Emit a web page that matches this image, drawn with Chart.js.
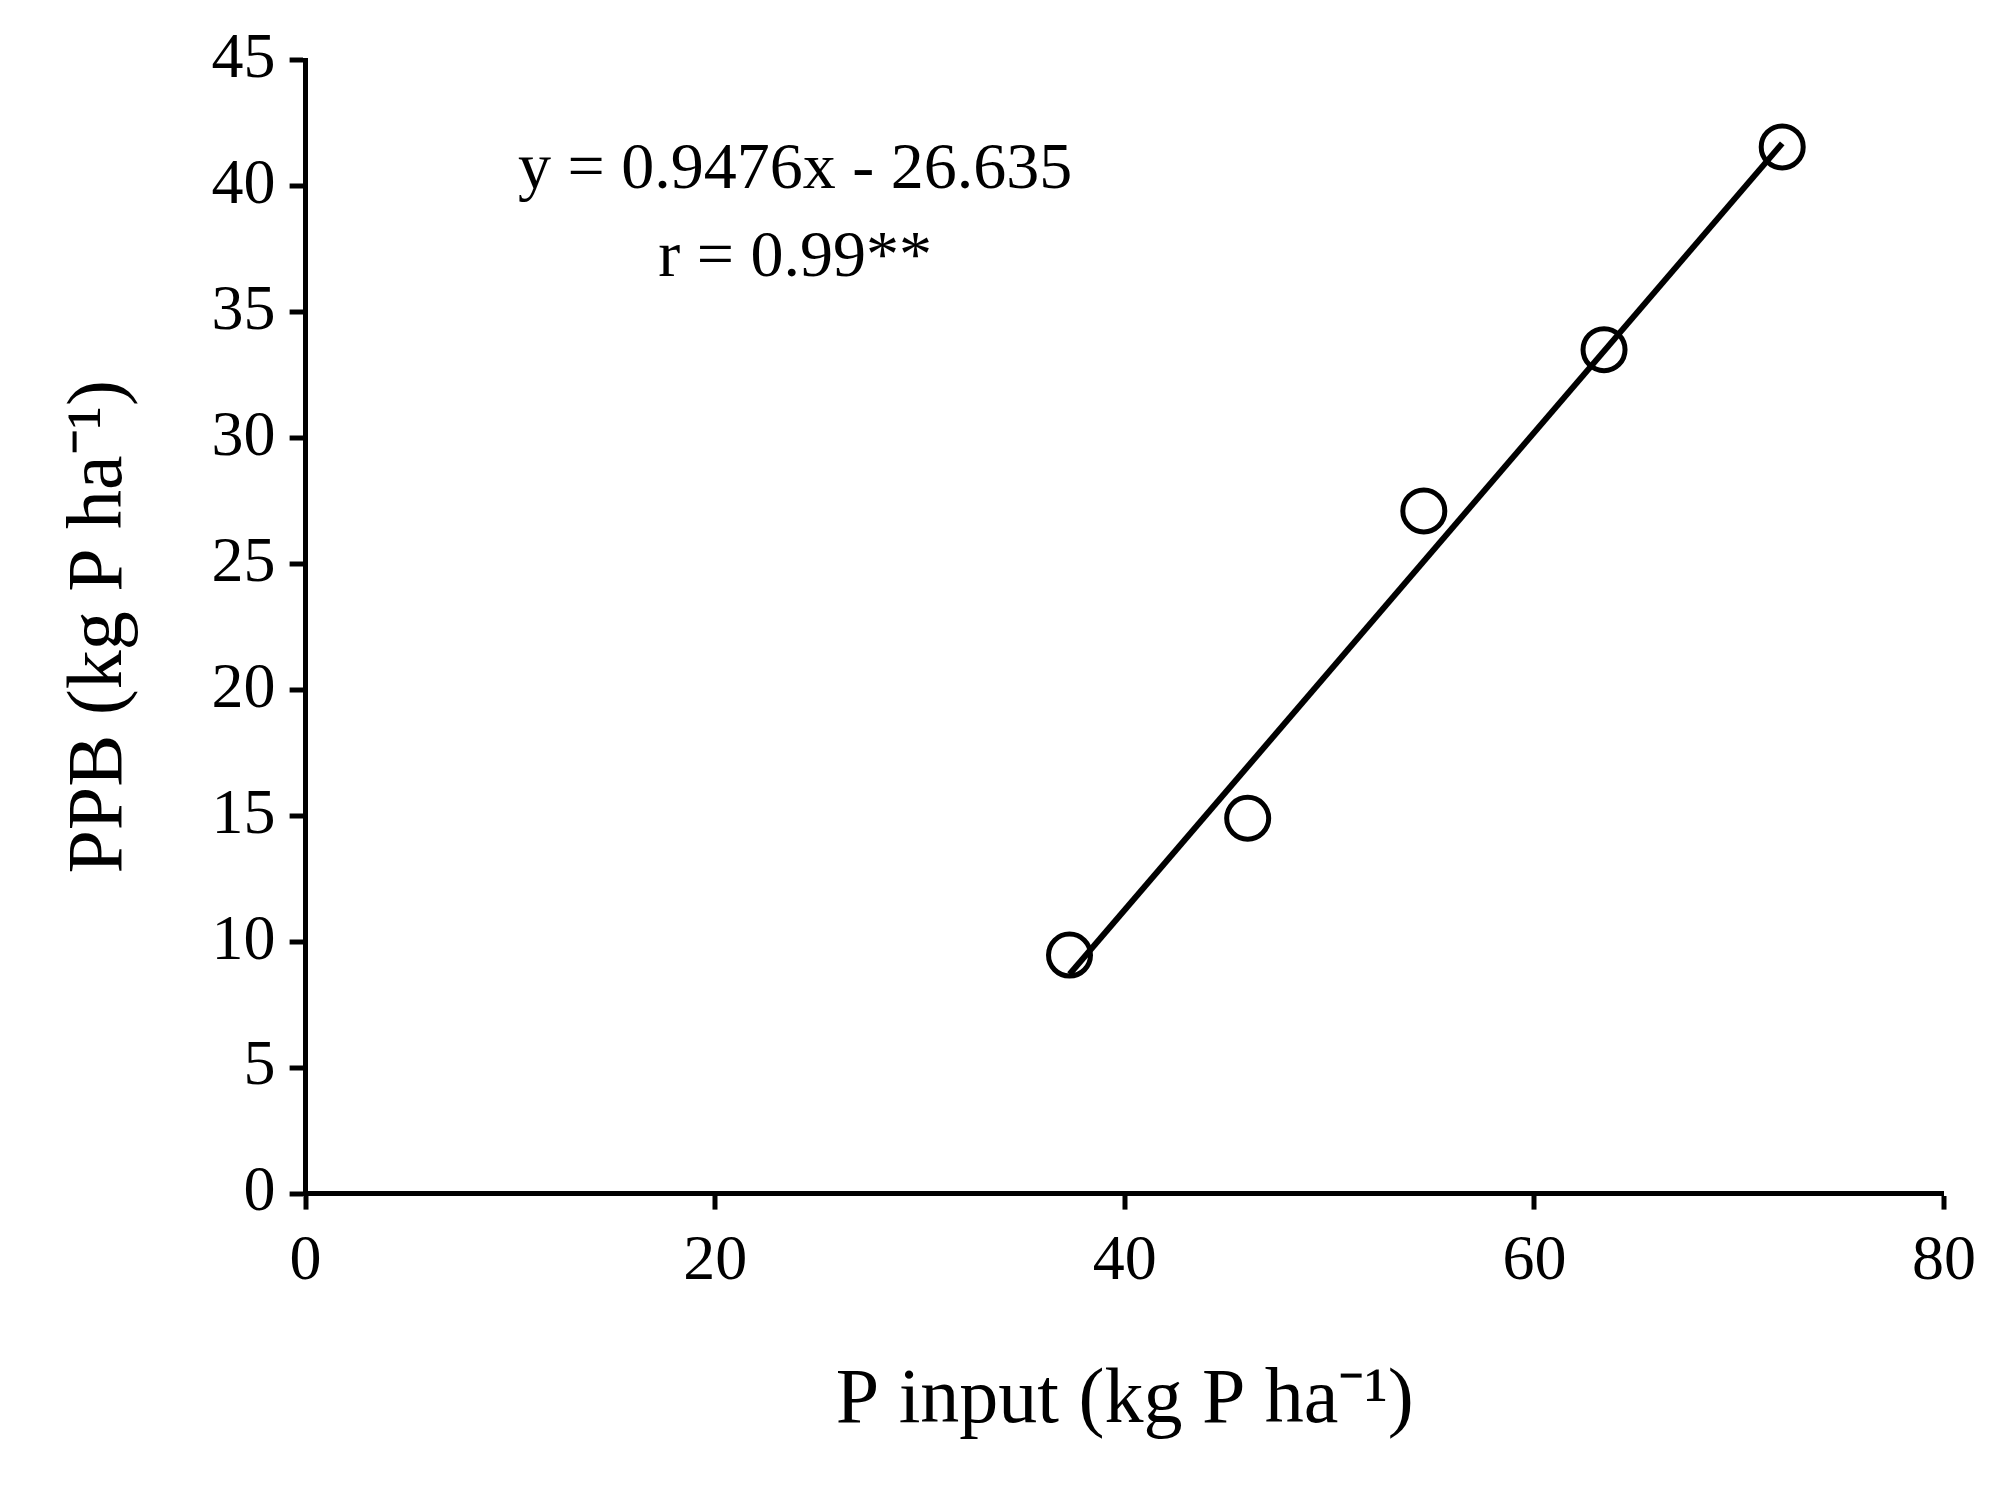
<!DOCTYPE html>
<html>
<head>
<meta charset="utf-8">
<script src="https://cdn.jsdelivr.net/npm/chart.js@4.4.1/dist/chart.umd.min.js"></script>
<style>
  html, body { margin: 0; padding: 0; background: #fff; }
  #wrap { width: 2004px; height: 1512px; }
</style>
</head>
<body>
<div id="wrap"><canvas id="myChart" width="2004" height="1512"></canvas></div>
<script>
// Observed points
const pInput = [37.3, 46.0, 54.6, 63.4, 72.1];
const ppb = [9.47, 14.9, 27.1, 33.5, 41.55];

// Regression line y = 0.9476x - 26.635 (end points)
const fitX = [37.3, 72.1];
const fitY = [8.71, 41.69];

const eqLines = ["y = 0.9476x - 26.635", "r = 0.99**"];
const eqPos = [[23.9, 40.6], [23.9, 37.1]];

const serif = "'Liberation Serif', 'Times New Roman', serif";

// draws the regression equation text in data coordinates
const eqText = {
  id: "eqText",
  afterDatasetsDraw(chart) {
    const { ctx, scales } = chart;
    ctx.save();
    ctx.font = "66px " + serif;
    ctx.fillStyle = "#000";
    ctx.textAlign = "center";
    ctx.textBaseline = "middle";
    eqLines.forEach((t, i) => {
      ctx.fillText(t, scales.x.getPixelForValue(eqPos[i][0]), scales.y.getPixelForValue(eqPos[i][1]));
    });
    ctx.restore();
  }
};

const gridOpts = { display: true, drawOnChartArea: false, drawTicks: true, tickLength: 16, color: "#000", tickColor: "#000", tickWidth: 5, lineWidth: 0 };

const ctx = document.getElementById("myChart").getContext("2d");
new Chart(ctx, {
  type: "scatter",
  data: {
    datasets: [
      {
        label: "fit",
        data: fitX.map((x, i) => ({ x: x, y: fitY[i] })),
        showLine: true,
        borderColor: "#000",
        borderWidth: 6,
        pointRadius: 0
      },
      {
        label: "PPB",
        data: pInput.map((x, i) => ({ x: x, y: ppb[i] })),
        pointRadius: 21,
        pointBorderWidth: 5,
        pointBorderColor: "#000",
        pointBackgroundColor: "rgba(255,255,255,0)"
      }
    ]
  },
  options: {
    responsive: false,
    animation: false,
    layout: { padding: { top: 60, right: 60, bottom: 60, left: 50 } },
    plugins: { legend: { display: false }, tooltip: { enabled: false } },
    scales: {
      x: {
        min: 0, max: 80,
        ticks: { stepSize: 20, color: "#000", font: { family: serif, size: 64 }, padding: 14 },
        grid: gridOpts,
        border: { color: "#000", width: 5 },
        title: { display: true, text: "P input (kg P ha\u207B\u00B9)", color: "#000", font: { family: serif, size: 78 }, padding: { top: 40 } }
      },
      y: {
        min: 0, max: 45,
        ticks: { stepSize: 5, color: "#000", font: { family: serif, size: 64 }, padding: 14 },
        grid: gridOpts,
        border: { color: "#000", width: 5 },
        title: { display: true, text: "PPB (kg P ha\u207B\u00B9)", color: "#000", font: { family: serif, size: 78 }, padding: { bottom: 50 } }
      }
    }
  },
  plugins: [eqText]
});
</script>
</body>
</html>
